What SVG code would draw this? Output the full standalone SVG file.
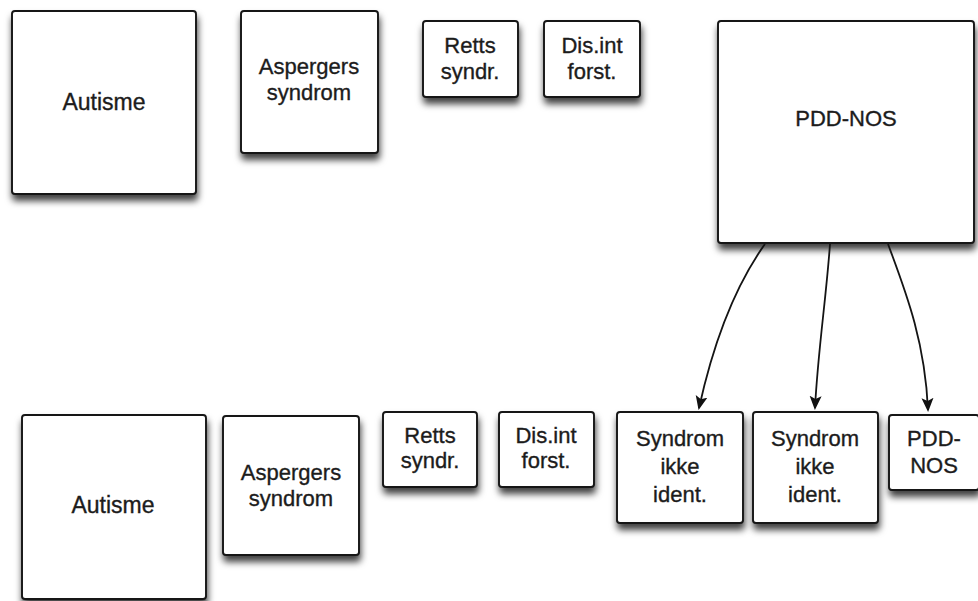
<svg xmlns="http://www.w3.org/2000/svg" width="978" height="601" viewBox="0 0 978 601">
  <style>
    .box { fill: #ffffff; stroke: #141414; stroke-width: 1.9; filter: url(#shadow); }
    .lbl { font-family: "Liberation Sans", Arial, Helvetica, sans-serif; font-size: 22px; fill: #1c1c1c; stroke: #1c1c1c; stroke-width: 0.35; text-anchor: middle; }
    .big { font-size: 23px; }
    .edge { fill: none; stroke: #141414; stroke-width: 1.8; marker-end: url(#arrow); }
  </style>
  <defs>
    <filter id="shadow" x="-20%" y="-20%" width="140%" height="140%">
      <feDropShadow dx="1" dy="6" stdDeviation="3.5" flood-color="#000000" flood-opacity="0.75"/>
    </filter>
    <marker id="arrow" markerWidth="14" markerHeight="14" refX="12" refY="6" orient="auto" markerUnits="userSpaceOnUse">
      <path d="M0,0 L14,6 L0,12 L3,6 Z" fill="#111111"/>
    </marker>
  </defs>
  <rect width="978" height="601" fill="#ffffff"/>

  <!-- upper row -->
  <g id="autisme-top">
    <rect class="box" x="12" y="11" width="184" height="183" rx="3"/>
    <text class="lbl big" x="104" y="110">Autisme</text>
  </g>
  <g id="aspergers-top">
    <rect class="box" x="241" y="11" width="137" height="142" rx="3"/>
    <text class="lbl" x="309" y="74">Aspergers</text>
    <text class="lbl" x="309" y="100">syndrom</text>
  </g>
  <g id="retts-top">
    <rect class="box" x="423" y="21" width="95" height="76" rx="3"/>
    <text class="lbl" x="470" y="53">Retts</text>
    <text class="lbl" x="470" y="79">syndr.</text>
  </g>
  <g id="disint-top">
    <rect class="box" x="544" y="21" width="96" height="76" rx="3"/>
    <text class="lbl" x="592" y="53">Dis.int</text>
    <text class="lbl" x="592" y="79">forst.</text>
  </g>
  <g id="pddnos-top">
    <rect class="box" x="718" y="21" width="256" height="222" rx="3"/>
    <text class="lbl" x="846" y="126">PDD-NOS</text>
  </g>

  <!-- lower row -->
  <g id="autisme-bottom">
    <rect class="box" x="22" y="415" width="184" height="184" rx="3"/>
    <text class="lbl big" x="113" y="513">Autisme</text>
  </g>
  <g id="aspergers-bottom">
    <rect class="box" x="223" y="416" width="136" height="139" rx="3"/>
    <text class="lbl" x="291" y="480">Aspergers</text>
    <text class="lbl" x="291" y="506">syndrom</text>
  </g>
  <g id="retts-bottom">
    <rect class="box" x="383" y="412" width="94" height="75" rx="3"/>
    <text class="lbl" x="430" y="443">Retts</text>
    <text class="lbl" x="430" y="468">syndr.</text>
  </g>
  <g id="disint-bottom">
    <rect class="box" x="499" y="412" width="95" height="75" rx="3"/>
    <text class="lbl" x="546" y="443">Dis.int</text>
    <text class="lbl" x="546" y="468">forst.</text>
  </g>
  <g id="syndrom-1">
    <rect class="box" x="617" y="412" width="126" height="111" rx="3"/>
    <text class="lbl" x="680" y="446">Syndrom</text>
    <text class="lbl" x="680" y="474">ikke</text>
    <text class="lbl" x="680" y="502">ident.</text>
  </g>
  <g id="syndrom-2">
    <rect class="box" x="753" y="412" width="125" height="111" rx="3"/>
    <text class="lbl" x="815" y="446">Syndrom</text>
    <text class="lbl" x="815" y="474">ikke</text>
    <text class="lbl" x="815" y="502">ident.</text>
  </g>
  <g id="pddnos-bottom">
    <rect class="box" x="889" y="415" width="90" height="75" rx="3"/>
    <text class="lbl" x="934" y="446">PDD-</text>
    <text class="lbl" x="934" y="473">NOS</text>
  </g>

  <!-- connectors from PDD-NOS to its three subtypes -->
  <g id="connectors">
    <path class="edge" d="M765,244 C745,272 718,322 699,408"/>
    <path class="edge" d="M830,244 C826,300 818,350 815,408"/>
    <path class="edge" d="M888,244 C905,290 925,340 928,410"/>
  </g>
</svg>
